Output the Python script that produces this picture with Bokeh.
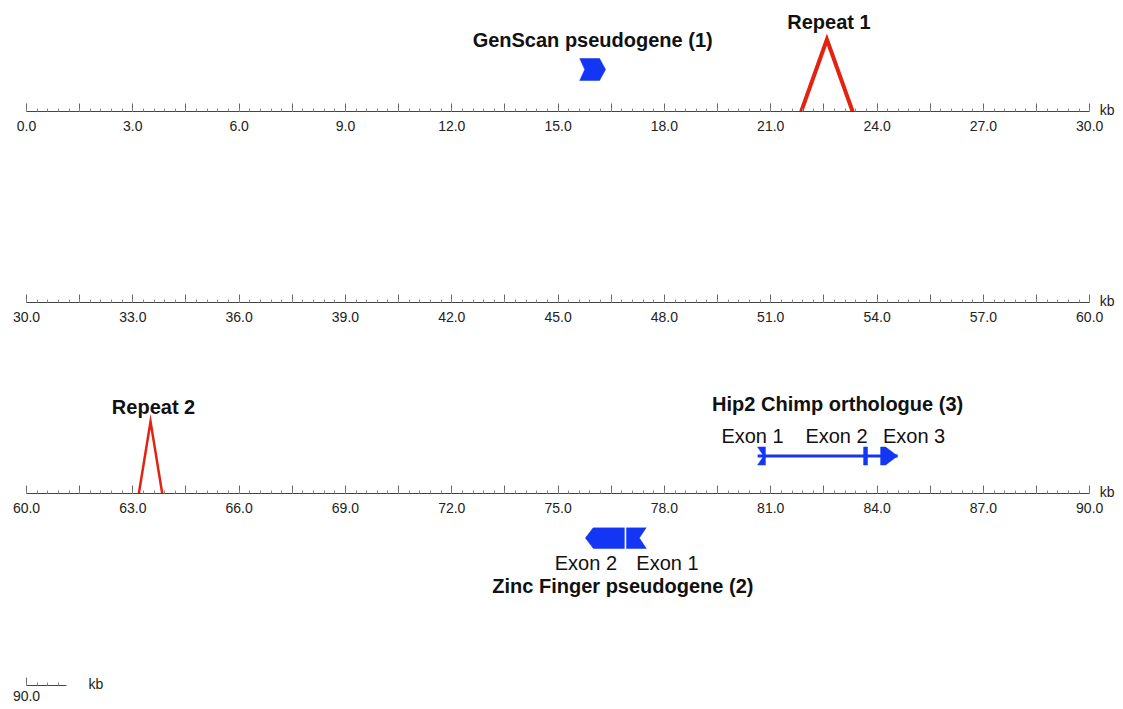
import numpy as np
from bokeh.plotting import figure
from bokeh.models import ColumnDataSource, Range1d, LinearAxis, FixedTicker, PrintfTickFormatter
from bokeh.layouts import column
from bokeh.embed import file_html
from bokeh.resources import INLINE
from bokeh.core.properties import value

# ---------------- data (kb) ----------------
row_start_kb = [0.0, 30.0, 60.0, 90.0]
row_span_kb = 30.0
sequence_length_kb = 91.13
axis_unit = "kb"

repeat_labels = ["Repeat 1", "Repeat 2"]
repeat_start_kb = [21.86, 63.17]
repeat_end_kb = [23.31, 63.83]

genscan_title = "GenScan pseudogene (1)"
genscan_exon_start_kb = [15.61]
genscan_exon_end_kb = [16.34]

zinc_title = "Zinc Finger pseudogene (2)"
zinc_exon_labels = ["Exon 1", "Exon 2"]
zinc_exon_start_kb = [76.93, 75.77]
zinc_exon_end_kb = [77.49, 76.87]

hip2_title = "Hip2 Chimp orthologue (3)"
hip2_exon_labels = ["Exon 1", "Exon 2", "Exon 3"]
hip2_exon_start_kb = [80.63, 83.62, 84.10]
hip2_exon_end_kb = [80.85, 83.73, 84.58]

# ---------------- style ----------------
W = 1123
PX_PER_KB = 35.44
LEFT_PAD_PX = 26
BLUE = "#1236f4"
RED = "#e3230f"
FONT = "Liberation Sans"
TXT = "#111111"
AXIS_BORDER = 34

def px(v):
    return v / PX_PER_KB

def make_fig(x0, height, y0, y1, border_bottom=0):
    p = figure(width=W, height=height, output_backend="svg", toolbar_location=None,
               x_range=Range1d(x0 - px(LEFT_PAD_PX), x0 + px(W - LEFT_PAD_PX)),
               y_range=Range1d(y0, y1),
               x_axis_location=None, y_axis_location=None,
               min_border_left=0, min_border_right=0, min_border_top=0,
               min_border_bottom=border_bottom)
    p.outline_line_color = None
    p.grid.visible = False
    p.background_fill_color = "white"
    p.border_fill_color = "white"
    return p

def add_ruler(p, start, kb_dx_px, standoff=9):
    end = min(start + row_span_kb, sequence_length_kb)
    majors = [round(start + 1.5 * i, 2) for i in range(21) if start + 1.5 * i <= end + 1e-9]
    minors = [round(start + 0.3 * i, 2) for i in range(101) if start + 0.3 * i <= end + 1e-9]
    ax = LinearAxis(ticker=FixedTicker(ticks=majors, minor_ticks=minors),
                    formatter=PrintfTickFormatter(format="%.1f"), bounds=(start, end))
    ax.major_label_overrides = {t: "" for t in majors if abs(t / 3.0 - round(t / 3.0)) > 1e-6}
    ax.axis_line_color = "#444444"
    ax.axis_line_width = 1
    ax.major_tick_in = 8
    ax.major_tick_out = 0
    ax.minor_tick_in = 3
    ax.minor_tick_out = 0
    ax.major_tick_line_color = "#666666"
    ax.minor_tick_line_color = "#888888"
    ax.major_label_standoff = standoff
    ax.major_label_text_font = FONT
    ax.major_label_text_font_size = "14px"
    ax.major_label_text_color = "#222222"
    p.add_layout(ax, "below")
    r = p.text(x=[end], y=[0], text=[axis_unit], x_offset=kb_dx_px, y_offset=-2,
               text_align="left", text_baseline="middle", text_font=value(FONT),
               text_font_size=value("14px"), text_color="#222222")
    r.level = "overlay"

def exon_shape(L, R, yc, h, tail_side, head_side, notch_kb, head_kb):
    pts = [(L + head_kb if head_side == "left" else L, yc + h)]
    if head_side == "right":
        pts += [(R - head_kb, yc + h), (R, yc), (R - head_kb, yc - h)]
    elif tail_side == "right":
        pts += [(R, yc + h), (R - notch_kb, yc), (R, yc - h)]
    else:
        pts += [(R, yc + h), (R, yc - h)]
    if head_side == "left":
        pts += [(L + head_kb, yc - h), (L, yc)]
    elif tail_side == "left":
        pts += [(L, yc - h), (L + notch_kb, yc)]
    else:
        pts += [(L, yc - h)]
    xs, ys = zip(*pts)
    return list(xs), list(ys)

def draw_gene(p, starts, ends, strand, yc, h, notch_px, head_px, intron=False):
    n = len(starts)
    xs, ys = [], []
    for i in range(n):
        first, last = (i == 0), (i == n - 1)
        if strand > 0:
            tail = "left" if first else None
            head = "right" if last else None
        else:
            tail = "right" if first else None
            head = "left" if last else None
        a, b = exon_shape(starts[i], ends[i], yc, h, tail, head, px(notch_px), px(head_px))
        xs.append(a)
        ys.append(b)
    if intron:
        p.segment(x0=[min(starts)], y0=[yc], x1=[max(ends)], y1=[yc],
                  line_color=BLUE, line_width=3)
    p.patches(xs=xs, ys=ys, fill_color=BLUE, line_color=BLUE, line_width=0.5)

def draw_repeat(p, s, e, height, lw):
    p.line(x=[s, (s + e) / 2, e], y=[0, height, 0], line_color=RED, line_width=lw,
           line_join="miter")

def label(p, x, y, txt, size="20px", bold=False, dx=0):
    p.text(x=[x], y=[y], text=[txt], x_offset=dx, text_align="center", text_baseline="middle",
           text_font=value(FONT), text_font_size=value(size),
           text_font_style="bold" if bold else "normal", text_color=TXT)

# ---------------- row 1 ----------------
f1 = make_fig(row_start_kb[0], 111 + AXIS_BORDER, 0, 111, AXIS_BORDER)
add_ruler(f1, row_start_kb[0], 10)
draw_gene(f1, genscan_exon_start_kb, genscan_exon_end_kb, +1, 42, 11, 5, 6)
label(f1, (genscan_exon_start_kb[0] + genscan_exon_end_kb[0]) / 2, 72, genscan_title, bold=True)
r1c = (repeat_start_kb[0] + repeat_end_kb[0]) / 2
draw_repeat(f1, repeat_start_kb[0], repeat_end_kb[0], 72, 4)
label(f1, r1c, 90, repeat_labels[0], bold=True, dx=2)

# ---------------- row 2 ----------------
f2 = make_fig(row_start_kb[1], 157 + AXIS_BORDER, 0, 157, AXIS_BORDER)
add_ruler(f2, row_start_kb[1], 10)

# ---------------- row 3 ----------------
f3 = make_fig(row_start_kb[2], 157 + AXIS_BORDER, 0, 157, AXIS_BORDER)
add_ruler(f3, row_start_kb[2], 10)
r2c = (repeat_start_kb[1] + repeat_end_kb[1]) / 2
draw_repeat(f3, repeat_start_kb[1], repeat_end_kb[1], 72, 2.5)
label(f3, r2c, 87, repeat_labels[1], bold=True, dx=3)
draw_gene(f3, hip2_exon_start_kb, hip2_exon_end_kb, +1, 37.5, 9, 6, 12, intron=True)
hip2_dx = [-9, -29, 25]
for i, t in enumerate(hip2_exon_labels):
    label(f3, (hip2_exon_start_kb[i] + hip2_exon_end_kb[i]) / 2, 57.5, t, dx=hip2_dx[i])
label(f3, (min(hip2_exon_start_kb) + max(hip2_exon_end_kb)) / 2, 90, hip2_title, bold=True, dx=10)

# ---------------- below row 3 ----------------
f3b = make_fig(row_start_kb[2], 78, -112, -34, 0)
draw_gene(f3b, zinc_exon_start_kb, zinc_exon_end_kb, -1, -44.5, 10.5, 7, 8)
zinc_dx = [31, -19]
for i, t in enumerate(zinc_exon_labels):
    label(f3b, (zinc_exon_start_kb[i] + zinc_exon_end_kb[i]) / 2, -69.5, t, dx=zinc_dx[i])
label(f3b, (min(zinc_exon_start_kb) + max(zinc_exon_end_kb)) / 2, -92, zinc_title, bold=True, dx=7)

# ---------------- row 4 ----------------
f4 = make_fig(row_start_kb[3], 80 + 24, 0, 80, 24)
add_ruler(f4, row_start_kb[3], 22, standoff=5)

layout = column(f1, f2, f3, f3b, f4, spacing=0)
open("out.html", "w").write(file_html(layout, INLINE))
